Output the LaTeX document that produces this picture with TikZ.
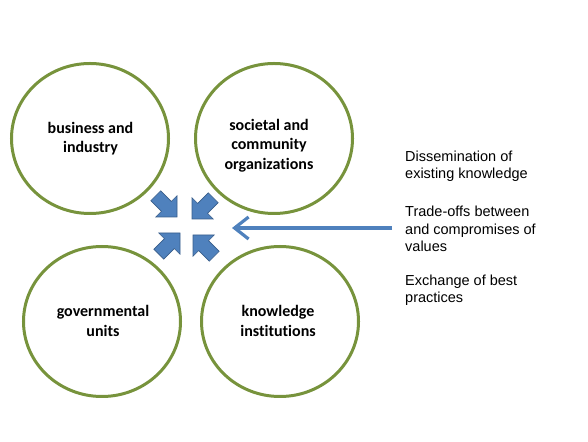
\documentclass[tikz,border=0pt]{standalone}
\usepackage{fontspec}
\setmainfont{Liberation Sans}
\newfontfamily\carlitofont[Ligatures={NoCommon}]{Carlito}
\usetikzlibrary{shapes.geometric,arrows.meta}
\definecolor{ringgreen}{HTML}{77933C}
\definecolor{arrowblue}{HTML}{4F81BD}
\definecolor{arrowedge}{HTML}{385D8A}
\tikzset{
  ring/.style={ellipse, draw=ringgreen, line width=3pt, minimum width=157pt, minimum height=150pt, inner sep=0pt},
  ringtext/.style={font=\carlitofont\bfseries\fontsize{16}{19.5}\selectfont, align=center, text=black},
  sidetext/.style={font=\fontsize{14.5}{17.5}\selectfont, align=left, anchor=west, inner sep=0pt},
  blockarrow/.style={fill=arrowblue, draw=arrowedge, line width=0.6pt, line join=miter},
  longarrow/.style={draw=arrowblue, line width=3.2pt, -{Straight Barb[length=14pt,width=22pt]}}
}
\begin{document}
\begin{tikzpicture}[x=1pt,y=1pt]
\useasboundingbox (0,0) rectangle (588,441);
% circles
\node[ring] (c1) at (90,302.5) {};
\node[ring] (c2) at (274,302.5) {};
\node[ring] (c3) at (102,119.5) {};
\node[ring] (c4) at (280,119.5) {};
% circle labels
\node[ringtext] (l1) at (90.5,302.5) {business and\\industry};
\node[ringtext] (l2) at (269,295.5) {societal and\\community\\organizations};
\node[ringtext] (l3) at (103,120) {governmental\\units};
\node[ringtext] (l4) at (278,120) {knowledge\\institutions};
% four block arrows
\foreach \n/\x/\y/\a in {a1/177/224/-45, a2/192/222/-135, a3/180/208/45, a4/193/206/135}{
  \coordinate (\n) at (\x,\y);
  \path[blockarrow, shift={(\n)}, rotate=\a]
    (0,0) -- (-15,15) -- (-15,7) -- (-30,7) -- (-30,-7) -- (-15,-7) -- (-15,-15) -- cycle;
}
% long arrow
\coordinate (src) at (392,213);
\coordinate (dst) at (232,213);
\draw[longarrow] (src) -- (dst);
% side texts
\node[sidetext] (t1) at (405,274.5) {Dissemination of\\existing knowledge};
\node[sidetext] (t2) at (405,212) {Trade-offs between\\and compromises of\\values};
\node[sidetext] (t3) at (405,150.5) {Exchange of best\\practices};
\end{tikzpicture}
\end{document}
